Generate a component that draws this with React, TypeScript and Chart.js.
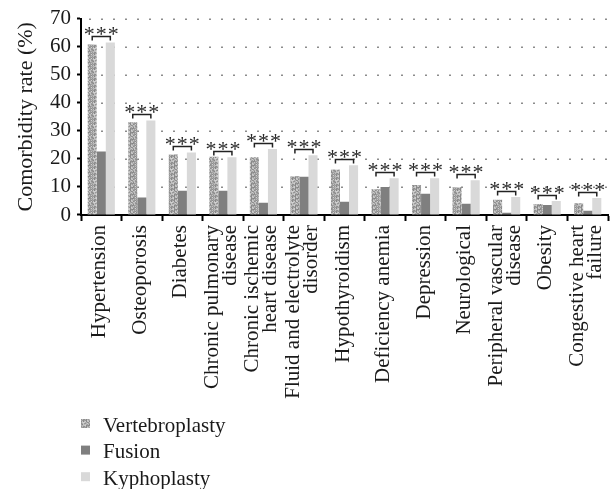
import React, { useEffect, useRef } from 'react';
import { Chart, registerables } from 'chart.js';

Chart.register(...registerables);

const categories: string[] = [
  'Hypertension',
  'Osteoporosis',
  'Diabetes',
  'Chronic pulmonary\ndisease',
  'Chronic ischemic\nheart disease',
  'Fluid and electrolyte\ndisorder',
  'Hypothyroidism',
  'Deficiency anemia',
  'Depression',
  'Neurological',
  'Peripheral vascular\ndisease',
  'Obesity',
  'Congestive heart\nfailure',
];
const vertebroplasty: number[] = [60.8, 33.1, 21.6, 20.8, 20.6, 13.8, 16.2, 9.2, 10.7, 9.9, 5.4, 3.9, 4.2];
const fusion: number[] = [22.6, 6.2, 8.6, 8.6, 4.4, 13.6, 4.7, 10.0, 7.6, 4.0, 0.8, 3.6, 1.5];
const kyphoplasty: number[] = [61.5, 33.7, 22.3, 20.6, 23.5, 21.3, 17.7, 13.1, 13.1, 12.4, 6.4, 5.0, 6.1];
const significance: string[] = ['***', '***', '***', '***', '***', '***', '***', '***', '***', '***', '***', '***', '***'];
const seriesNames: string[] = ['Vertebroplasty', 'Fusion', 'Kyphoplasty'];
const yMin = 0;
const yMax = 70;
const yStep = 10;
const yTitle = 'Comorbidity rate (%)';

const SERIF = '"Liberation Serif", "Times New Roman", serif';
const TEXT = '#1a1a1a';

// speckled granite-like texture for the first series (style only, not data)
function makeSpeckle(ctx: CanvasRenderingContext2D): CanvasPattern | string {
  const n = 11;
  const c = document.createElement('canvas');
  c.width = n;
  c.height = n;
  const g = c.getContext('2d');
  if (!g) return '#ababab';
  for (let i = 0; i < n; i++) {
    for (let j = 0; j < n; j++) {
      const h = (i * 73 + j * 151 + ((i * j) % 7) * 29 + ((i + 2 * j) % 5) * 17) % 80;
      const v = 132 + h;
      g.fillStyle = `rgb(${v},${v},${v})`;
      g.fillRect(i, j, 1, 1);
    }
  }
  return ctx.createPattern(c, 'repeat') || '#ababab';
}

const annotationPlugin = {
  id: 'sigAnnotations',
  beforeDatasetsDraw(chart: any) {
    const ctx: CanvasRenderingContext2D = chart.ctx;
    const ys = chart.scales.y;
    const area = chart.chartArea;
    ctx.save();
    ctx.fillStyle = '#8c8c8c';
    for (let v = yMin + yStep; v <= yMax; v += yStep) {
      const y = Math.round(ys.getPixelForValue(v));
      for (let x = area.left + 8; x < area.right; x += 12) {
        ctx.fillRect(x, y - 0.5, 2, 1.5);
      }
    }
    ctx.restore();
  },
  afterDatasetsDraw(chart: any) {
    const ctx: CanvasRenderingContext2D = chart.ctx;
    const m0 = chart.getDatasetMeta(0).data;
    const m1 = chart.getDatasetMeta(1).data;
    const m2 = chart.getDatasetMeta(2).data;
    ctx.save();
    for (let i = 0; i < categories.length; i++) {
      const b0 = m0[i];
      const b1 = m1[i];
      const b2 = m2[i];
      if (!b0 || !b2) continue;
      const top = Math.min(b0.y, b1.y, b2.y);
      const yb = Math.round(top - 6) + 0.5;
      ctx.strokeStyle = '#222';
      ctx.lineWidth = 1.5;
      ctx.beginPath();
      ctx.moveTo(b0.x, yb + 4);
      ctx.lineTo(b0.x, yb);
      ctx.lineTo(b2.x, yb);
      ctx.lineTo(b2.x, yb + 4);
      ctx.stroke();
      ctx.fillStyle = '#2a2a2a';
      ctx.font = `22px ${SERIF}`;
      (ctx as any).letterSpacing = '1px';
      ctx.textAlign = 'center';
      ctx.textBaseline = 'alphabetic';
      ctx.fillText(significance[i], (b0.x + b2.x) / 2 + 0.5, yb + 4);
      (ctx as any).letterSpacing = '0px';
    }
    ctx.restore();
  },
  afterDraw(chart: any) {
    const ctx: CanvasRenderingContext2D = chart.ctx;
    const xs = chart.scales.x;
    const area = chart.chartArea;
    ctx.save();
    // category labels, rotated
    ctx.fillStyle = TEXT;
    ctx.font = `21px ${SERIF}`;
    ctx.textAlign = 'right';
    ctx.textBaseline = 'alphabetic';
    const lineGap = 18;
    categories.forEach((lab, i) => {
      const lines = lab.split('\n');
      const cx = xs.getPixelForTick(i);
      lines.forEach((ln, j) => {
        const bx = cx + 4 + (j - (lines.length - 1) / 2) * lineGap;
        ctx.save();
        ctx.translate(bx, area.bottom + 10);
        ctx.rotate(-Math.PI / 2);
        ctx.fillText(ln, 0, 0);
        ctx.restore();
      });
    });
    // legend, vertical list at bottom-left
    const fills = chart.data.datasets.map((d: any) => d.backgroundColor);
    const lx = area.left;
    const ly0 = 419;
    const rowGap = 26.6;
    ctx.textAlign = 'left';
    seriesNames.forEach((name, k) => {
      const y = ly0 + k * rowGap;
      ctx.fillStyle = fills[k];
      ctx.fillRect(lx, y, 9, 9);
      ctx.fillStyle = TEXT;
      ctx.font = `21px ${SERIF}`;
      ctx.fillText(name, lx + 22, y + 12.5);
    });
    ctx.restore();
  },
};

export default function App() {
  const ref = useRef<HTMLCanvasElement | null>(null);
  useEffect(() => {
    const canvas = ref.current;
    if (!canvas) return;
    const ctx = canvas.getContext('2d');
    if (!ctx) return;
    const speckle = makeSpeckle(ctx);
    const chart = new Chart(canvas, {
      type: 'bar',
      data: {
        labels: categories,
        datasets: [
          { label: seriesNames[0], data: vertebroplasty, backgroundColor: speckle as any, categoryPercentage: 0.67, barPercentage: 1 },
          { label: seriesNames[1], data: fusion, backgroundColor: '#7f7f7f', categoryPercentage: 0.67, barPercentage: 1 },
          { label: seriesNames[2], data: kyphoplasty, backgroundColor: '#d9d9d9', categoryPercentage: 0.67, barPercentage: 1 },
        ],
      },
      options: {
        animation: false,
        responsive: true,
        maintainAspectRatio: false,
        layout: { padding: { top: 15, right: 5, left: 9, bottom: 0 } },
        plugins: {
          legend: { display: false },
          tooltip: { enabled: false },
        },
        scales: {
          x: {
            offset: true,
            grid: {
              display: true,
              offset: true,
              drawOnChartArea: false,
              drawTicks: true,
              tickLength: 6,
              tickColor: '#000',
              tickWidth: 2,
            },
            border: { display: true, color: '#000', width: 2 },
            ticks: { display: false },
            afterFit: (s: any) => {
              s.height = 489 - 215;
            },
          },
          y: {
            min: yMin,
            max: yMax,
            afterFit: (s: any) => {
              s.width = 72;
            },
            ticks: {
              stepSize: yStep,
              autoSkip: false,
              color: TEXT,
              padding: 6,
              font: { family: SERIF, size: 21 },
            },
            grid: {
              drawOnChartArea: false,
              drawTicks: true,
              tickLength: 4,
              tickColor: '#000',
              tickWidth: 2,
            },
            border: { display: true, color: '#000', width: 2 },
            title: {
              display: true,
              text: yTitle,
              color: TEXT,
              font: { family: SERIF, size: 22 },
              padding: { top: 4, bottom: 4 },
            },
          },
        },
      },
      plugins: [annotationPlugin],
    });
    return () => chart.destroy();
  }, []);
  return (
    <div style={{ position: 'absolute', left: 0, top: 0, width: 613, height: 489, background: '#fff' }}>
      <canvas ref={ref} />
    </div>
  );
}
